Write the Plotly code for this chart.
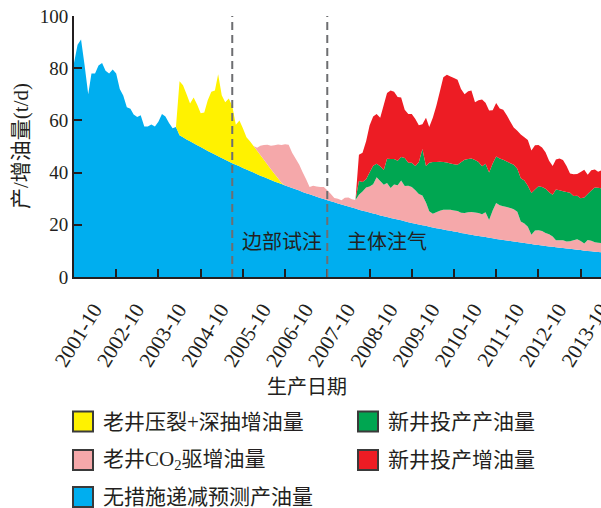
import pandas as pd
import plotly.graph_objects as go

# Monthly production dates, 2001-10 ... 2014-04
dates = pd.date_range("2001-10-01", "2014-04-01", freq="MS")

# 无措施递减预测产油量 (t/d), one value per month from 2001-10
base_decline = [
    82, 89, 91, 81, 70, 78, 78, 81, 82, 79,
    78, 79.5, 78, 72, 69.5, 65, 64.5, 62.3, 61.3, 62,
    57.7, 57.7, 58.4, 57.7, 59.5, 62.5, 61.5, 59, 57, 57.5,
    54.3, 53.5, 52.7, 52.0, 51.2, 50.5, 49.8, 49.0, 48.3, 47.6,
    46.9, 46.3, 45.6, 44.9, 44.3, 43.6, 43.0, 42.4, 41.8, 41.2,
    40.6, 40.0, 39.4, 38.8, 38.3, 37.7, 37.2, 36.6, 36.1, 35.6,
    35.1, 34.6, 34.1, 33.6, 33.1, 32.6, 32.1, 31.7, 31.2, 30.7,
    30.3, 29.9, 29.4, 29.0, 28.6, 28.2, 27.8, 27.4, 27.0, 26.6,
    26.2, 25.8, 25.4, 25.1, 24.7, 24.3, 24.0, 23.6, 23.3, 23.0,
    22.6, 22.3, 22.0, 21.7, 21.4, 21.0, 20.7, 20.4, 20.1, 19.8,
    19.6, 19.3, 19.0, 18.7, 18.5, 18.2, 17.9, 17.7, 17.4, 17.2,
    16.9, 16.7, 16.4, 16.2, 15.9, 15.7, 15.5, 15.3, 15.0, 14.8,
    14.6, 14.4, 14.2, 14.0, 13.8, 13.6, 13.4, 13.2, 13.0, 12.8,
    12.6, 12.4, 12.3, 12.1, 11.9, 11.7, 11.6, 11.4, 11.2, 11.1,
    10.9, 10.8, 10.6, 10.4, 10.3, 10.1, 10.0, 9.9, 9.7, 9.6,
    9.4,
]

# 老井压裂+深抽增油量, monthly from 2004-04
frac_start = "2004-04-01"
frac_gain = [
    20.7, 20.0, 17.3, 14.5, 17.6, 15.5, 12.9, 14.0, 19.4, 23.4,
    24.6, 31.4, 24.0, 22.1, 24.1, 21.9, 15.3, 17.6, 15.2, 12.3,
    11.4, 10.2, 9.0, 7.9, 6.6, 5.4, 4.1, 3.0, 1.7, 0.4,
]

# 老井CO2驱增油量, monthly from 2006-02
co2_start = "2006-02-01"
co2_gain = [
    1.1, 3.6, 5.7, 7.6, 9.0, 10.9, 13.0, 14.6, 15.8, 16.1,
    13.5, 11.7, 9.9, 7.6, 5.4, 2.8, 3.8, 4.0, 4.2, 4.6,
    3.8, 2.8, 1.7, 1.8, 1.6, 3.0, 3.5, 3.2, 3.3, 5.7,
    7.4, 9.2, 10.0, 11.2, 14.2, 13.2, 12.0, 13.0, 11.5, 13.1,
    13.2, 15.3, 13.5, 14.0, 13.8, 12.8, 11.7, 11.4, 8.9, 5.9,
    5.2, 6.1, 6.9, 7.6, 7.9, 8.1, 8.1, 8.1, 7.7, 7.8,
    8.4, 8.7, 8.8, 8.8, 8.5, 9.5, 6.8, 10.7, 13.8, 13.1,
    12.9, 12.8, 12.6, 12.4, 11.6, 8.1, 7.5, 6.5, 3.6, 5.4,
    5.6, 5.5, 5.0, 4.7, 3.9, 2.7, 2.9, 3.0, 2.7, 2.9,
    3.5, 4.1, 3.5, 2.7, 4.2, 4.0, 3.6, 3.5, 3.6,
]

# 新井投产产油量 and 新井投产增油量, monthly from 2008-07
new_start = "2008-07-01"
new_well_prod = [
    5.3, 3.6, 3.2, 5.3, 7.1, 5.2, 5.6, 5.7, 9.3, 11.1,
    9.8, 9.3, 9.0, 10.7, 8.8, 9.3, 9.3, 12.2, 17.8, 14.0,
    18.6, 19.9, 19.3, 18.8, 18.3, 18.1, 17.7, 17.7, 17.7, 19.4,
    20.4, 20.4, 20.5, 20.1, 19.6, 18.4, 18.6, 18.2, 18.0, 17.8,
    17.9, 17.8, 17.5, 17.2, 17.0, 16.5, 16.5, 16.5, 15.7, 16.0,
    15.7, 16.9, 16.9, 16.9, 16.1, 16.0, 19.4, 19.1, 18.8, 19.0,
    18.6, 16.9, 16.6, 16.4, 17.7, 17.6, 19.2, 21.0, 21.1, 20.9,
]
new_well_gain = [
    10.0, 11.2, 14.5, 18.0, 18.9, 19.1, 18.6, 25.0, 25.2, 26.3,
    25.8, 24.5, 22.8, 18.5, 18.7, 18.7, 18.0, 14.1, 9.5, 18.5,
    13.7, 16.9, 21.4, 26.9, 32.4, 33.6, 33.3, 33.0, 32.6, 28.0,
    25.1, 26.0, 26.1, 22.2, 23.6, 25.6, 23.4, 23.8, 20.4, 20.5,
    19.2, 19.2, 17.7, 15.9, 14.3, 14.5, 16.8, 16.5, 17.5, 16.3,
    17.0, 15.8, 15.1, 14.0, 12.0, 11.0, 11.5, 12.2, 11.9, 9.9,
    7.4, 8.4, 8.4, 10.0, 10.6, 7.4, 7.8, 6.9, 6.1, 7.0,
]

# Axis ticks
tick_dates = [
    "2001-10-01", "2002-10-01", "2003-10-01", "2004-10-01", "2005-10-01",
    "2006-10-01", "2007-10-01", "2008-10-01", "2009-10-01", "2010-10-01",
    "2011-10-01", "2012-10-01", "2013-10-01",
]
tick_labels = [
    "2001-10", "2002-10", "2003-10", "2004-10", "2005-10", "2006-10", "2007-10",
    "2008-10", "2009-10", "2010-10", "2011-10", "2012-10", "2013-10",
]

# Stage boundaries and stage names
stage_lines = ["2005-07-01", "2007-10-01"]
stage_names = ["边部试注", "主体注气"]
stage_label_x = ["2006-09-01", "2009-03-01"]

legend_names = [
    "老井压裂+深抽增油量", "新井投产产油量",
    "老井CO<sub>2</sub>驱增油量", "新井投产增油量",
    "无措施递减预测产油量",
]

BLUE, YELLOW, PINK, GREEN, RED = "#00aeef", "#fff200", "#f5a8aa", "#00a651", "#ed1c24"
INK = "#231f20"
SERIF = "Liberation Serif, Times New Roman, serif"
MIXED = "Liberation Serif, Noto Sans CJK SC, serif"
CJK = "Noto Sans CJK SC, sans-serif"


def pad(start, values):
    i = dates.get_loc(pd.Timestamp(start))
    out = [0.0] * len(dates)
    out[i:i + len(values)] = values
    return out


layers = [
    ("无措施递减预测产油量", base_decline, BLUE),
    ("老井压裂+深抽增油量", pad(frac_start, frac_gain), YELLOW),
    ("老井CO2驱增油量", pad(co2_start, co2_gain), PINK),
    ("新井投产产油量", pad(new_start, new_well_prod), GREEN),
    ("新井投产增油量", pad(new_start, new_well_gain), RED),
]

fig = go.Figure()
for name, vals, color in layers:
    fig.add_trace(go.Scatter(
        x=dates, y=vals, name=name, mode="none",
        stackgroup="prod", fillcolor=color, showlegend=False,
        hoverinfo="x+y+name",
    ))

W, H = 601, 508
L, R, T, B = 74, 0, 16, 231
pw, ph = W - L - R, H - T - B


def px_x(x):
    return (x - L) / pw


def px_y(y):
    return (H - B - y) / ph


shapes = []
for d in stage_lines:
    shapes.append(dict(
        type="line", xref="x", yref="y", x0=d, x1=d, y0=0, y1=100,
        line=dict(color="#6d6e71", width=2, dash="8px,5px"), layer="above",
    ))

annotations = []
for name, xd in zip(stage_names, stage_label_x):
    annotations.append(dict(
        x=xd, y=14, xref="x", yref="y", text=name, showarrow=False,
        xanchor="center", yanchor="middle",
        font=dict(family=CJK, size=20, color=INK),
    ))

# axis titles
annotations.append(dict(
    x=px_x(307), y=px_y(385), xref="paper", yref="paper", text="生产日期",
    showarrow=False, xanchor="center", yanchor="middle",
    font=dict(family=CJK, size=20, color=INK),
))
annotations.append(dict(
    x=px_x(21), y=px_y(146), xref="paper", yref="paper", text="产/增油量(t/d)",
    showarrow=False, xanchor="center", yanchor="middle", textangle=-90,
    font=dict(family=MIXED, size=21, color=INK),
))

# legend: two columns of colour swatches with labels
legend_colors = [YELLOW, GREEN, PINK, RED, BLUE]
col_x = [73, 358]
row_y = [421.5, 460, 497]
for k, (label, color) in enumerate(zip(legend_names, legend_colors)):
    cx = col_x[k % 2]
    cy = row_y[k // 2]
    shapes.append(dict(
        type="rect", xref="paper", yref="paper",
        x0=px_x(cx), x1=px_x(cx + 20), y0=px_y(cy - 10), y1=px_y(cy + 10),
        fillcolor=color, line=dict(color="#3a3a3a", width=2),
    ))
    annotations.append(dict(
        x=px_x(cx + 28), y=px_y(cy), xref="paper", yref="paper",
        text=label, showarrow=False, xanchor="left", yanchor="middle",
        font=dict(family=MIXED, size=21, color=INK),
    ))

fig.update_layout(
    width=W, height=H,
    margin=dict(l=L, r=R, t=T, b=B, pad=0, autoexpand=False),
    paper_bgcolor="white", plot_bgcolor="white",
    showlegend=False,
    shapes=shapes, annotations=annotations,
    font=dict(family=SERIF, color=INK),
    xaxis=dict(
        type="date", range=["2001-10-01", "2014-03-26"],
        tickmode="array", tickvals=tick_dates, ticktext=tick_labels,
        tickangle=-58, ticks="inside", ticklen=8, tickwidth=1.5, tickcolor=INK,
        showline=True, linewidth=2, linecolor=INK, showgrid=False, zeroline=False,
        tickfont=dict(family=SERIF, size=21, color=INK), automargin=False,
        ticklabelshift=20, ticklabelstandoff=10, ticklabeloverflow="allow",
    ),
    yaxis=dict(
        range=[0, 100], tickvals=[0, 20, 40, 60, 80, 100],
        ticks="inside", ticklen=8, tickwidth=1.5, tickcolor=INK,
        showline=True, linewidth=2, linecolor=INK, showgrid=False, zeroline=False,
        tickfont=dict(family=SERIF, size=19, color=INK), automargin=False,
    ),
)

fig.write_html("out.html")
